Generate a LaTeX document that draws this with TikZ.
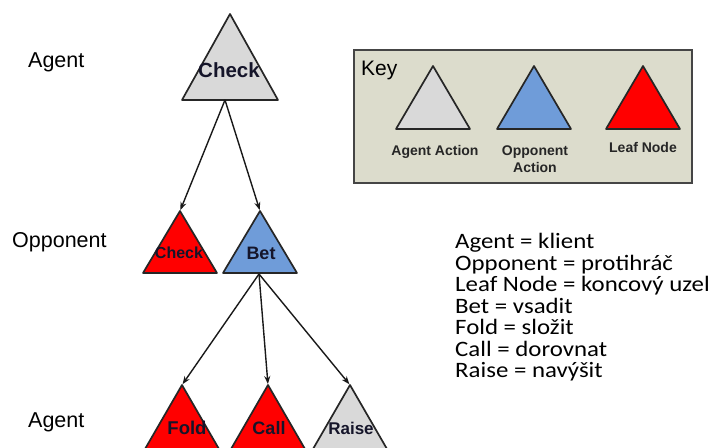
\documentclass[tikz,border=0pt]{standalone}
\usepackage{fontspec}
\setmainfont{Liberation Sans}
\newfontfamily\calibfont[FakeStretch=1.13]{Carlito}
\usetikzlibrary{arrows.meta}
\definecolor{agentgrey}{HTML}{D9D9D9}
\definecolor{oppblue}{HTML}{6F9CD9}
\definecolor{leafred}{HTML}{FF0000}
\definecolor{keyfill}{HTML}{DCDCCC}
\definecolor{keyline}{HTML}{454545}
\definecolor{tritext}{HTML}{15152A}
% name, apex x, apex y, half width, height, fill colour
\newcommand\mytriangle[6]{%
  \coordinate (#1-apex) at (#2,#3);
  \coordinate (#1-base) at (#2,#3+#5);
  \draw[tri, fill=#6] (#1-apex) -- ++(#4,#5) -- ++({-2*#4},0) -- cycle;
}
\tikzset{
  tri/.style={draw=black!85, line width=1.7pt, line join=round},
  conn/.style={draw=black!90, line width=1.4pt, -{Stealth[length=8pt,width=6pt]}, shorten >=1pt},
  trilabel/.style={font=\bfseries\fontsize{#1}{#1}\selectfont, text=tritext, inner sep=0pt},
  rowlabel/.style={font=\fontsize{21.5}{21.5}\selectfont, anchor=base west, inner sep=0pt},
  keylabel/.style={font=\bfseries\fontsize{14}{17.5}\selectfont, align=center, inner sep=0pt, text=black!85},
  transl/.style={font=\calibfont\fontsize{22}{22}\selectfont, anchor=base west, inner sep=0pt},
}
\begin{document}
\begin{tikzpicture}[x=1pt, y=-1pt]
\useasboundingbox (0,0) rectangle (720,447);
% tree
\mytriangle{top}{230}{14}{48}{86}{agentgrey}
\node[trilabel=20.5] (topl) at (229,70) {Check};
\mytriangle{oc}{180}{211}{37}{62}{leafred}
\node[trilabel=16] (ocl) at (179,253) {Check};
\mytriangle{ob}{260}{211}{37}{62}{oppblue}
\node[trilabel=18] (obl) at (261,253) {Bet};
\mytriangle{af}{182}{385}{37}{64}{leafred}
\node[trilabel=18.5] (afl) at (187,428) {Fold};
\mytriangle{ac}{268}{385}{37}{64}{leafred}
\node[trilabel=18] (acl) at (269,428) {Call};
\mytriangle{ar}{350}{385}{37}{64}{agentgrey}
\node[trilabel=17] (arl) at (351,428) {Raise};
\coordinate (top-out) at (225,100);
\coordinate (ob-out) at (259,274);
\draw[conn] (top-out) -- (oc-apex);
\draw[conn] (top-out) -- (ob-apex);
\draw[conn] (ob-out) -- (af-apex);
\draw[conn] (ob-out) -- (ac-apex);
\draw[conn] (ob-out) -- (ar-apex);
% row labels
\node[rowlabel] (r1) at (28,67) {Agent};
\node[rowlabel] (r2) at (12,247) {Opponent};
\node[rowlabel] (r3) at (28,427) {Agent};
% key
\draw[draw=keyline, fill=keyfill, line width=2pt] (354,50) rectangle (692,183);
\node[font=\fontsize{21}{21}\selectfont, anchor=base west, inner sep=0pt] (keyt) at (361,75) {Key};
\mytriangle{ka}{433}{66}{37}{63}{agentgrey}
\mytriangle{ko}{534}{66}{37}{63}{oppblue}
\mytriangle{kl}{643}{66}{37}{63}{leafred}
\node[keylabel] (kal) at (435,152) {Agent Action};
\node[keylabel] (kol) at (535,159) {Opponent\\Action};
\node[keylabel] (kll) at (643,147) {Leaf Node};
% translations
\node[transl] (t1) at (455,248.5) {Agent = klient};
\node[transl] (t2) at (455,270) {Opponent = protihráč};
\node[transl] (t3) at (455,291.5) {Leaf Node = koncový uzel};
\node[transl] (t4) at (455,313) {Bet = vsadit};
\node[transl] (t5) at (455,334.5) {Fold = složit};
\node[transl] (t6) at (455,356) {Call = dorovnat};
\node[transl] (t7) at (455,377.5) {Raise = navýšit};
\end{tikzpicture}
\end{document}
